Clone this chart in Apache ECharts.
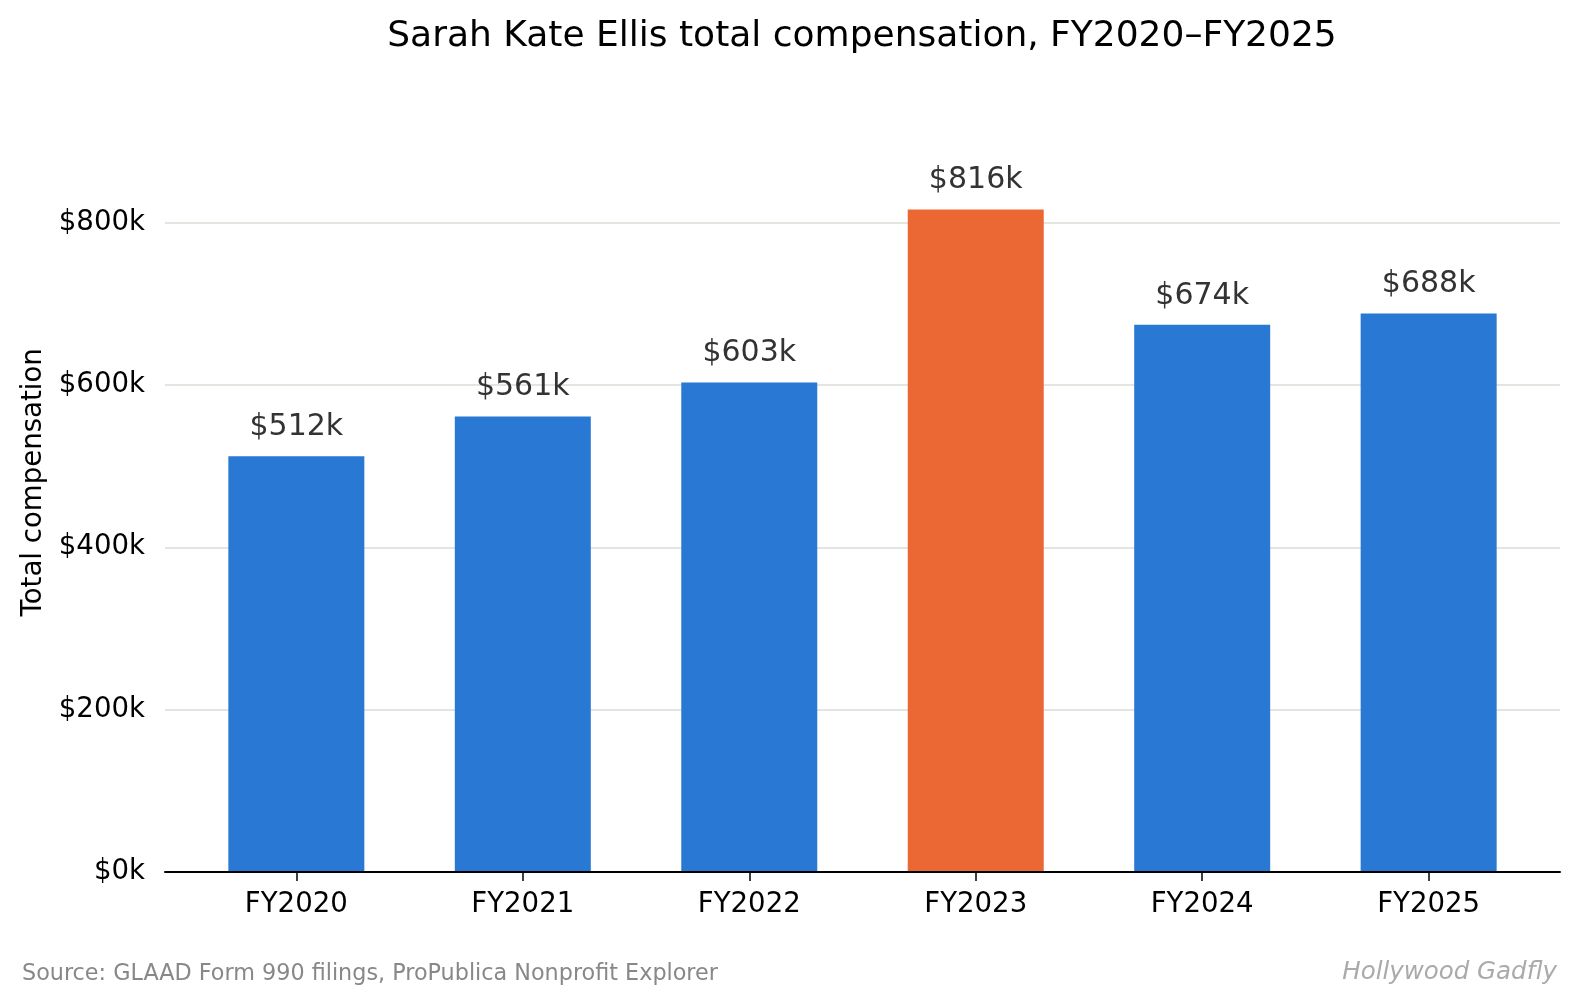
<!DOCTYPE html>
<html>
<head>
<meta charset="utf-8">
<title>Sarah Kate Ellis total compensation</title>
<script src="https://cdn.jsdelivr.net/npm/echarts@6/dist/echarts.min.js"></script>
<style>
  html, body { margin: 0; padding: 0; background: #fff; }
  #chart { width: 1580px; height: 1005px; }
</style>
</head>
<body>
<div id="chart"></div>
<script>
// 数据
var years = ["FY2020", "FY2021", "FY2022", "FY2023", "FY2024", "FY2025"];
var compensation = [512, 561, 603, 816, 674, 688]; // 单位: 千美元
var highlightYear = "FY2023";
var yTicks = [0, 200, 400, 600, 800];

(function() {
  var myChart = echarts.init(document.getElementById("chart"));
  var font = "DejaVu Sans";

  // 柱子数据，x 用序号
  var barData = compensation.map(function(v, i) {
    return {
      value: [i, v],
      itemStyle: { color: years[i] === highlightYear ? "#eb6835" : "#2979d4" }
    };
  });

  var option = {
    animation: false,
    textStyle: { fontFamily: font },
    title: [
      {
        text: "Sarah Kate Ellis total compensation, FY2020\u2013FY2025",
        left: 862,
        textAlign: "center",
        top: 19,
        padding: 0,
        textStyle: { fontFamily: font, fontSize: 36, fontWeight: "normal", color: "#000" }
      },
      {
        text: "Source: GLAAD Form 990 filings, ProPublica Nonprofit Explorer",
        left: 22,
        top: 963,
        padding: 0,
        textStyle: { fontFamily: font, fontSize: 22.3, fontWeight: "normal", color: "#888888" }
      },
      {
        // 斜体字体偏窄，字号放大一点
        text: "Hollywood Gadfly",
        right: 23,
        top: 960,
        padding: 0,
        textStyle: { fontFamily: font, fontSize: 24.5, fontWeight: "normal", fontStyle: "italic", color: "#aaaaaa" }
      }
    ],
    grid: {
      left: 165,
      right: 20,
      top: 92.6,
      bottom: 133,
      containLabel: false
    },
    xAxis: {
      type: "value",
      min: -0.58,
      max: 5.58,
      z: 10,
      axisLine: { show: true, onZero: false, lineStyle: { color: "#000", width: 2 } },
      axisTick: {
        show: true,
        length: 9,
        customValues: [0, 1, 2, 3, 4, 5],
        lineStyle: { color: "#000", width: 1.5 }
      },
      axisLabel: {
        customValues: [0, 1, 2, 3, 4, 5],
        margin: 19,
        fontFamily: font,
        fontSize: 27.6,
        color: "#000",
        formatter: function(v) {
          return years[Math.round(v)];
        }
      },
      splitLine: { show: false }
    },
    yAxis: {
      type: "value",
      min: 0,
      max: 960,
      interval: 200,
      name: "Total compensation",
      nameLocation: "middle",
      nameGap: 117,
      nameTextStyle: { fontFamily: font, fontSize: 27.6, color: "#000" },
      axisLine: { show: false },
      axisTick: { show: false },
      axisLabel: {
        margin: 20,
        fontFamily: font,
        fontSize: 27.6,
        color: "#000",
        showMaxLabel: false,
        formatter: function(v) {
          return yTicks.indexOf(v) >= 0 ? "$" + v + "k" : "";
        }
      },
      splitLine: {
        show: true,
        showMinLine: false,
        showMaxLine: false,
        lineStyle: { color: "#dddcd6", width: 1.6 }
      }
    },
    series: [
      {
        name: "Total compensation",
        type: "bar",
        barWidth: 136,
        data: barData,
        label: {
          show: true,
          position: "top",
          distance: 14,
          fontFamily: font,
          fontSize: 30,
          color: "#333333",
          formatter: function(p) {
            return "$" + p.value[1] + "k";
          }
        }
      }
    ]
  };

  myChart.setOption(option);
  window.addEventListener("resize", function() {
    myChart.resize();
  });
})();
</script>
</body>
</html>
